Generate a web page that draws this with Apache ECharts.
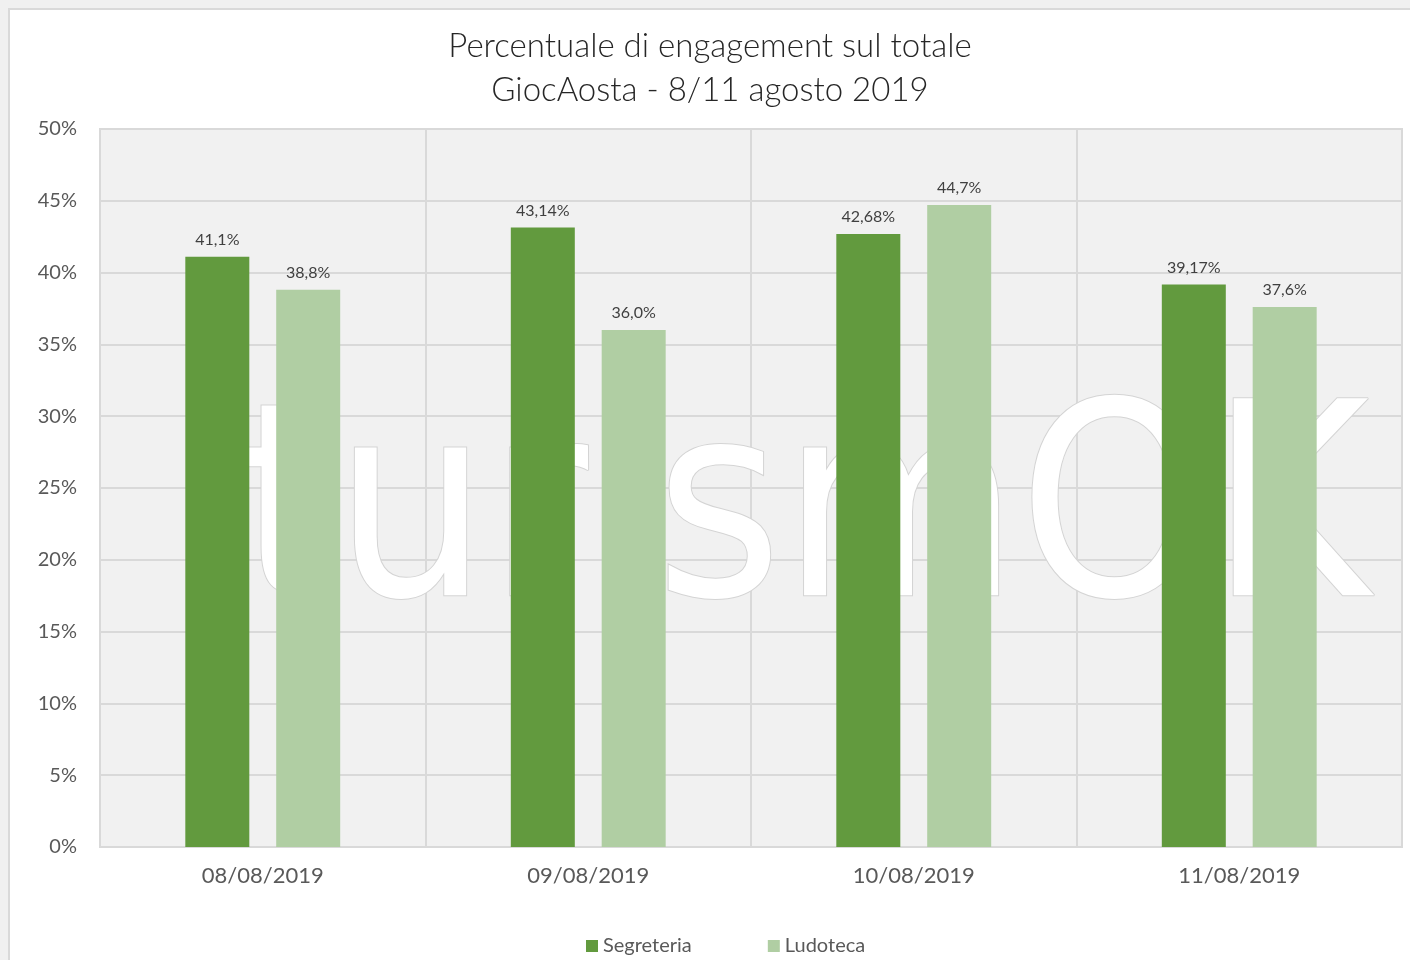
<!DOCTYPE html>
<html>
<head>
<meta charset="utf-8">
<script src="https://cdn.jsdelivr.net/npm/echarts@6/dist/echarts.min.js"></script>
<style>
  html, body { margin: 0; padding: 0; background: #f0f0f0; width: 1410px; height: 960px; overflow: hidden; }
  #frame { position: absolute; left: 8px; top: 8px; width: 1402px; height: 952px; box-sizing: border-box;
           border-top: 2px solid #d9d9d9; border-left: 2px solid #d9d9d9; background: #ffffff; }
  #chart { width: 1400px; height: 950px; }
</style>
</head>
<body>
<div id="frame"><div id="chart"></div></div>
<script>
const categories = ['08/08/2019', '09/08/2019', '10/08/2019', '11/08/2019'];
const segreteriaValues = [41.1, 43.14, 42.68, 39.17];
const ludotecaValues = [38.8, 36.0, 44.7, 37.6];
const segreteriaLabels = ['41,1%', '43,14%', '42,68%', '39,17%'];
const ludotecaLabels = ['38,8%', '36,0%', '44,7%', '37,6%'];
const seriesNames = ['Segreteria', 'Ludoteca'];
const titleLines = ['Percentuale di engagement sul totale', 'GiocAosta - 8/11 agosto 2019'];

const FONT = 'Lato, "Open Sans", "DejaVu Sans", sans-serif';
const chart = echarts.init(document.getElementById('chart'), null, { renderer: 'canvas' });

const labelCfg = (labels) => ({
  show: true,
  position: 'top',
  distance: 9,
  fontFamily: FONT,
  fontSize: 16,
  color: '#404040',
  formatter: (p) => labels[p.dataIndex]
});

chart.setOption({
  backgroundColor: '#ffffff',
  animation: false,
  title: {
    text: titleLines.join('\n'),
    left: 'center',
    top: 14,
    padding: [0, 0, 0, 20],
    textStyle: { fontFamily: FONT, fontSize: 33, fontWeight: 300, color: '#262626', lineHeight: 44 }
  },
  legend: {
    data: seriesNames,
    left: 571,
    top: 921,
    icon: 'rect',
    itemWidth: 12,
    itemHeight: 12,
    itemGap: 76,
    textStyle: { fontFamily: FONT, fontSize: 20, color: '#595959' }
  },
  grid: {
    left: 90, right: 8, top: 119, bottom: 113,
    show: true,
    backgroundColor: '#f1f1f1',
    borderColor: '#d9d9d9',
    borderWidth: 2
  },
  graphic: [{
    type: 'text',
    z: 1,
    left: 228,
    top: 379,
    silent: true,
    style: {
      text: 'turismOK',
      font: '500 270px "DejaVu Sans Condensed", "DejaVu Sans", sans-serif',
      fill: '#ffffff',
      stroke: '#d4d4d4',
      lineWidth: 2
    }
  }],
  xAxis: {
    type: 'category',
    data: categories,
    axisLine: { show: true, lineStyle: { color: '#d9d9d9', width: 2 } },
    axisTick: { show: false },
    splitLine: { show: true, lineStyle: { color: '#d9d9d9', width: 2 } },
    axisLabel: { fontFamily: FONT, fontSize: 22, color: '#595959', margin: 18 }
  },
  yAxis: {
    type: 'value',
    min: 0, max: 50, interval: 5,
    axisLine: { show: false },
    axisTick: { show: false },
    splitLine: { show: true, lineStyle: { color: '#d9d9d9', width: 2 } },
    axisLabel: { fontFamily: FONT, fontSize: 20, color: '#595959', margin: 23, formatter: '{value}%' }
  },
  series: [
    {
      name: seriesNames[0], type: 'bar', z: 3,
      data: segreteriaValues,
      barWidth: 64, barGap: '42%',
      itemStyle: { color: '#629a3e' },
      label: labelCfg(segreteriaLabels)
    },
    {
      name: seriesNames[1], type: 'bar', z: 3,
      data: ludotecaValues,
      barWidth: 64,
      itemStyle: { color: '#b0cea3' },
      label: labelCfg(ludotecaLabels)
    }
  ]
});
</script>
</body>
</html>
